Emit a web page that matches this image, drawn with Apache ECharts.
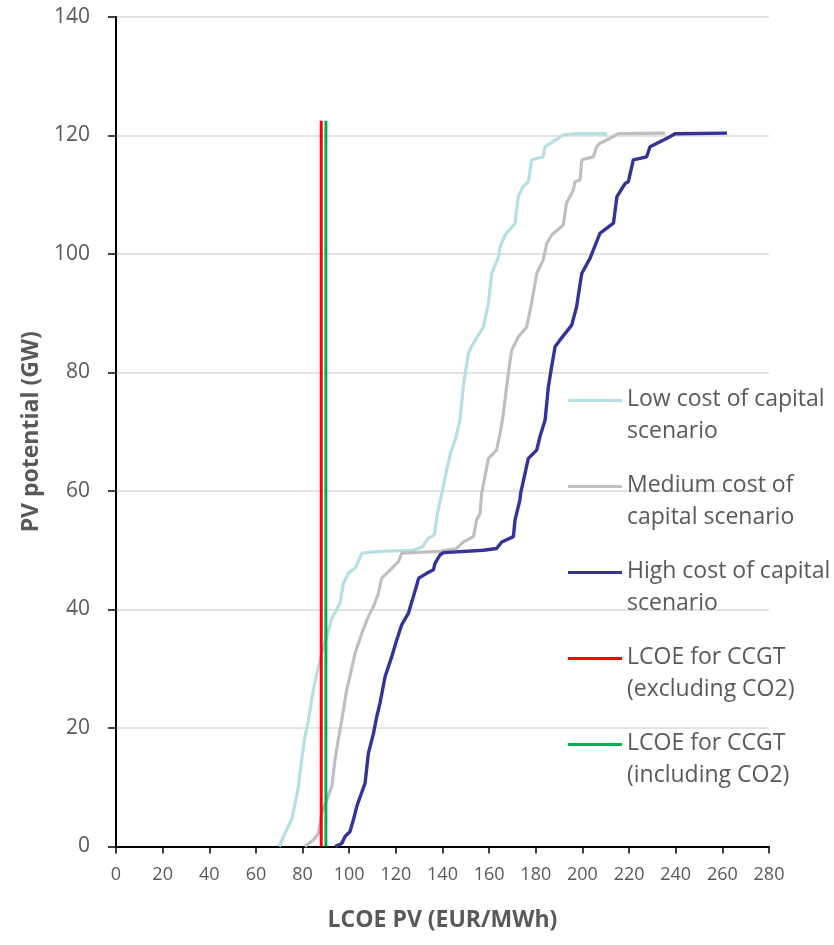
<!DOCTYPE html>
<html>
<head>
<meta charset="utf-8">
<script src="https://cdn.jsdelivr.net/npm/echarts@6/dist/echarts.min.js"></script>
<style>html,body{margin:0;padding:0;background:#fff}#c{width:834px;height:945px}</style>
</head>
<body>
<div id="c"></div>
<script>
// LCOE PV (EUR/MWh) vs cumulative PV potential (GW)
const lowCost = [[70,0],[72.5,2.3],[75.3,4.5],[76.8,7.3],[78.2,10.1],[79.6,14.6],[81,18.5],[82.5,21.3],[84.6,26.4],[86.8,30.3],[88.9,33.7],[90.5,35.5],[92.5,38.5],[96,41],[97.5,44.4],[99.6,46.1],[102.5,47],[103.9,48.1],[105.4,49.5],[113,49.8],[127.5,50],[131.5,50.6],[133.9,52],[136.5,52.6],[137.5,55.5],[139.6,59.5],[141.5,63],[143.5,66.5],[145.4,68.6],[147.5,72],[148.9,77.6],[151.1,83.2],[152.5,84.4],[157.5,87.7],[159.7,91.7],[161.1,96.7],[164,99.5],[164.7,101.2],[166.8,103.2],[171.1,105.2],[172.5,109.7],[174.6,111.4],[176.8,112.2],[178.2,115.9],[183.2,116.4],[183.9,118.1],[187.5,119],[191.8,120.1],[197,120.3],[210.5,120.3]];
const mediumCost = [[81,0],[84.6,1.1],[86.8,2.2],[88.2,5.6],[90.3,7.8],[92.5,10.1],[93.9,14.6],[95.3,18],[96.8,21.3],[98.9,26.4],[100.3,28.7],[102.5,32.6],[105.4,36],[108.2,38.8],[110.4,40.5],[112.5,42.7],[113.9,45.3],[116.1,46.1],[118.9,47.2],[121.1,48.1],[122.5,49.5],[138.9,49.8],[146.1,50.3],[149,51.4],[153.3,52.3],[154.6,55.1],[156.1,56.2],[156.8,59.6],[159.7,65.5],[163.2,66.9],[164.7,69.7],[166.1,73.1],[167.5,77.6],[169,82.1],[169.7,83.8],[172.5,86],[176.1,87.7],[178.2,91.7],[180.4,96.7],[183.2,99],[184.7,101.8],[186.8,103.2],[191.8,104.9],[193.2,108.6],[196.1,110.8],[196.8,112.2],[199,112.5],[199.7,115.9],[204.7,116.4],[206.1,118.1],[207.5,118.7],[211.8,119.5],[215.4,120.3],[235.5,120.4]];
const highCost = [[94,0],[96.8,0.5],[98.2,1.7],[100.3,2.5],[101.8,4.5],[103.2,6.7],[104.7,8.4],[106.8,10.7],[108.2,15.7],[110.4,19.1],[111.8,21.9],[113.2,24.2],[115.4,28.7],[118.2,32],[120.4,34.9],[122.5,37.4],[125.4,39.4],[127,41.5],[128.5,43.5],[129.8,45.3],[133.2,46.1],[136.1,46.7],[136.8,47.8],[138.9,49.2],[140.4,49.6],[157.5,50],[163.2,50.3],[165.4,51.4],[170.4,52.3],[171.1,55.1],[173.2,58.5],[173.5,59.6],[176.8,65.5],[180.4,66.9],[181.8,69.2],[184,72],[185.4,77.6],[186.8,81],[188.3,84.4],[190.4,85.5],[195.4,88],[197.5,91.1],[199.7,96.7],[203.3,99.3],[204.7,100.7],[207.5,103.5],[213.3,105.2],[214.8,109.7],[218.3,111.9],[219.7,112.2],[221.8,115.9],[227.5,116.4],[229,118.1],[234.6,119.2],[237.5,119.8],[239.7,120.3],[262,120.4]];
const ccgtExcl = [[88,0],[88,122.5]];
const ccgtIncl = [[90,0],[90,122.5]];
const seriesNames = ['Low cost of capital\nscenario','Medium cost of\ncapital scenario','High cost of capital\nscenario','LCOE for CCGT\n(excluding CO2)','LCOE for CCGT\n(including CO2)'];
const seriesColors = ['#B4DFE3','#BFBFBF','#333399','#FF0000','#00B050'];
const xTitle = 'LCOE PV (EUR/MWh)';
const yTitle = 'PV potential (GW)';

const FONT = '"Open Sans", sans-serif';
const chart = echarts.init(document.getElementById('c'), null, {renderer:'canvas'});
const datasets = [lowCost, mediumCost, highCost, ccgtExcl, ccgtIncl];
const widths = [3.2, 3.2, 3.4, 3, 3];
chart.setOption({
  animation: false,
  backgroundColor: '#fff',
  grid: {left:116, right:65, top:17, bottom:98.5, containLabel:false},
  legend: {
    orient: 'vertical', left: 568, top: 383, padding: 0,
    itemWidth: 54, itemHeight: 32, itemGap: 22,
    icon: 'path://M0,0L54,0L54,3L0,3Z M0,32L0.01,32L0,32Z',
    itemStyle: {borderWidth: 0},
    textStyle: {fontFamily: FONT, fontSize: 23, lineHeight: 32, color: '#595959', padding:[0,0,0,0]},
    data: seriesNames
  },
  xAxis: {
    type: 'value', min: 0, max: 280, interval: 20,
    name: xTitle, nameLocation: 'middle', nameGap: 62,
    nameTextStyle: {fontFamily: FONT, fontSize: 23, fontWeight: 'bold', color: '#595959'},
    axisLine: {show:true, lineStyle:{color:'#000', width:2}},
    axisTick: {show:true, length:7, lineStyle:{color:'#000', width:1.5}},
    axisLabel: {fontFamily: FONT, fontSize: 18, color:'#595959', margin: 19},
    splitLine: {show:false}
  },
  yAxis: {
    type: 'value', min: 0, max: 140, interval: 20,
    name: yTitle, nameLocation: 'middle', nameGap: 72, nameRotate: 90,
    nameTextStyle: {fontFamily: FONT, fontSize: 23, fontWeight: 'bold', color: '#595959'},
    axisLine: {show:true, lineStyle:{color:'#000', width:2}},
    axisTick: {show:true, length:8, lineStyle:{color:'#000', width:1.5}},
    axisLabel: {fontFamily: FONT, fontSize: 21, color:'#595959', margin: 26},
    splitLine: {show:true, lineStyle:{color:'#D9D9D9', width:1.5}}
  },
  series: datasets.map((d, i) => ({
    name: seriesNames[i],
    type: 'line',
    data: d,
    showSymbol: false,
    symbol: 'none',
    z: 2 + i,
    itemStyle: {color: seriesColors[i]},
    lineStyle: {color: seriesColors[i], width: widths[i]}
  }))
});
</script>
</body>
</html>
